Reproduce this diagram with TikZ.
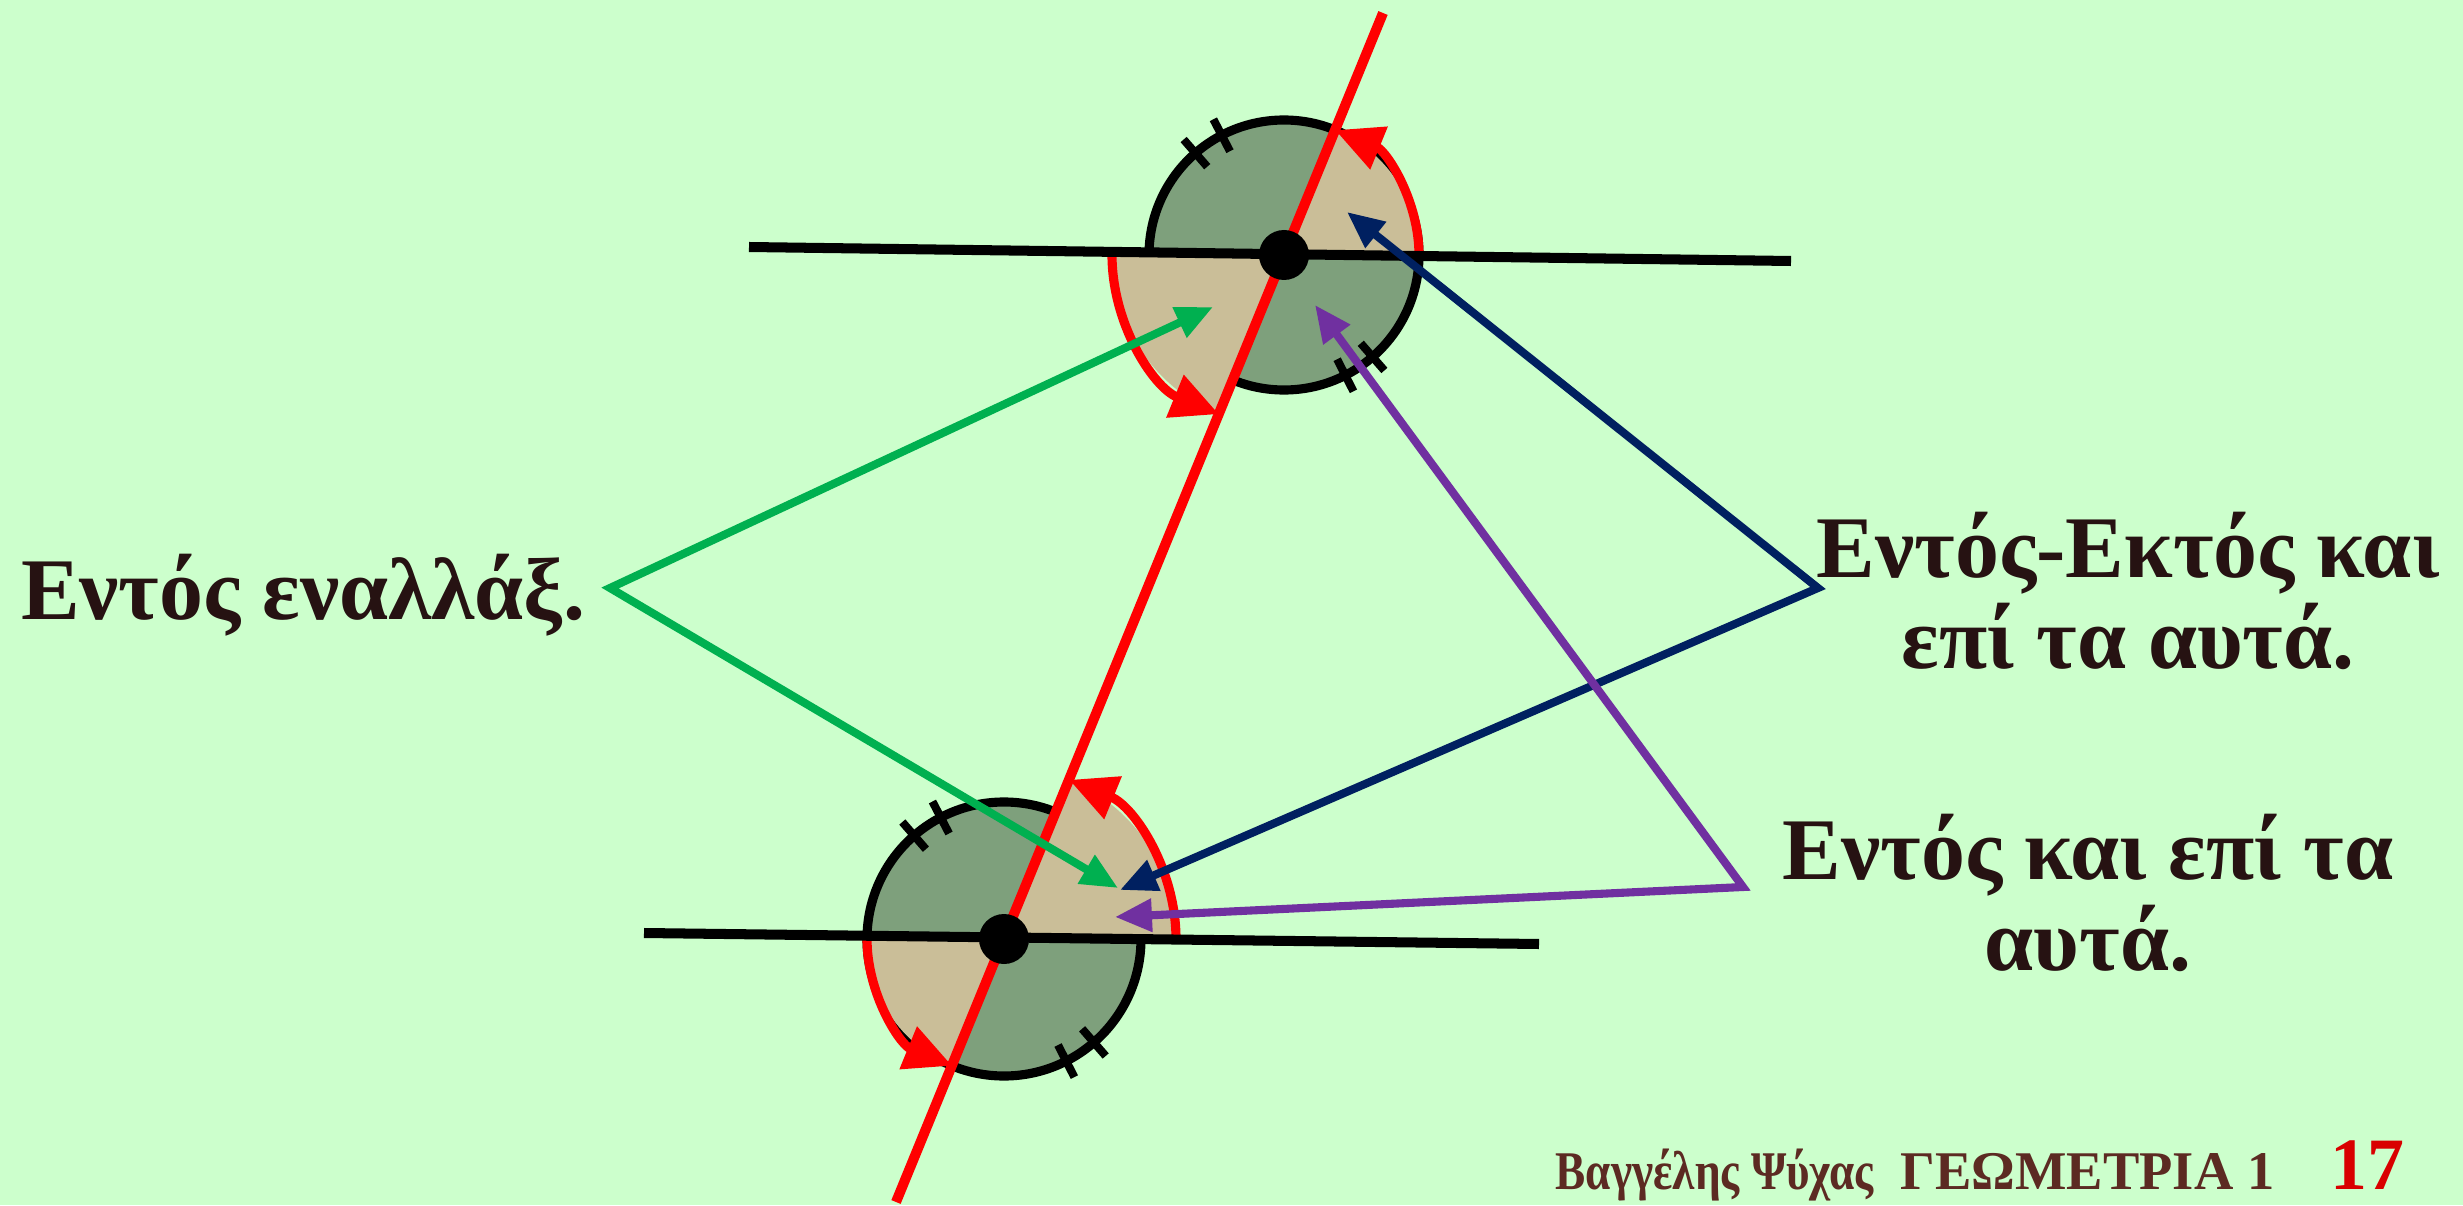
\documentclass[tikz,border=0pt]{standalone}
\usepackage{fontspec}
\setmainfont{Liberation Serif}
\newfontfamily\footfont{Liberation Serif}
\usetikzlibrary{arrows.meta}
\definecolor{bg}{RGB}{204,255,204}
\definecolor{circfill}{RGB}{126,160,124}
\definecolor{sectfill}{RGB}{202,190,152}
\definecolor{txtcol}{RGB}{38,18,18}
\definecolor{footcol}{RGB}{92,42,34}
\definecolor{ptrgreen}{RGB}{0,176,80}
\definecolor{ptrnavy}{RGB}{0,32,96}
\definecolor{ptrpurple}{RGB}{112,48,160}
\definecolor{redline}{RGB}{255,0,0}
\tikzset{
  circ/.style={draw=black, fill=circfill, line width=2.6pt},
  sect/.style={fill=sectfill},
  redarc/.style={draw=redline, line width=2.6pt, -{Triangle[length=13.5pt,width=12.5pt]}},
  blk/.style={draw=black, line width=2.85pt},
  redl/.style={draw=redline, line width=2.85pt},
  tickmark/.style={draw=black, line width=2.3pt},
  ptr/.style={line width=2.3pt, line join=miter,
    {Triangle[length=10.5pt,width=9pt]}-{Triangle[length=10.5pt,width=9pt]}},
  lbl/.style={text=txtcol, font=\bfseries\fontsize{25}{26}\selectfont, inner sep=0pt},
  foot/.style={text=footcol, font=\footfont\bfseries\fontsize{15.5}{16}\selectfont, inner sep=0pt}
}
\begin{document}
\begin{tikzpicture}[x=0.01cm,y=0.01cm]
\useasboundingbox (0,0) rectangle (2463,1205);
\fill[bg] (0,0) rectangle (2463,1205);
\def\up{67.74}
\def\dn{247.74}
\def\lf{179.25}
\def\rt{-0.75}
\coordinate (T) at (1284,950);
\coordinate (B) at (1004,266);
% circles
\draw[circ] (T) circle[radius=135];
\draw[circ] (B) circle[radius=137];
% sectors top
\fill[sect] (T) -- ++(\lf:172) arc[start angle=\lf, end angle=\dn, radius=172] -- cycle;
\fill[sect] (T) -- ++(\rt:135) arc[start angle=\rt, end angle=\up, radius=135] -- cycle;
% sectors bottom
\fill[sect] (B) -- ++(\rt:172) arc[start angle=\rt, end angle=\up, radius=172] -- cycle;
\fill[sect] (B) -- ++(\lf:137) arc[start angle=\lf, end angle=\dn, radius=137] -- cycle;
% red arcs
\draw[redarc] (T) ++(\lf:172) arc[start angle=\lf, end angle=\dn, radius=172];
\draw[redarc] (T) ++(\rt:135) arc[start angle=\rt, end angle=\up, radius=135];
\draw[redarc] (B) ++(\rt:172) arc[start angle=\rt, end angle=\up, radius=172];
\draw[redarc] (B) ++(\lf:137) arc[start angle=\lf, end angle=\dn, radius=137];
% ticks
\foreach \a in {117.5,131,-63,-49}{
  \draw[tickmark] (T) ++(\a:117) -- ++(\a:36);
  \draw[tickmark] (B) ++(\a:119) -- ++(\a:36);
}
% parallel lines
\coordinate (tl1) at (749,958);
\coordinate (tl2) at (1791,944);
\coordinate (bl1) at (644,272);
\coordinate (bl2) at (1539,261);
\draw[blk] (tl1) -- (tl2);
\draw[blk] (bl1) -- (bl2);
% transversal
\coordinate (r1) at (1383,1192);
\coordinate (r2) at (896,3);
\draw[redl] (r1) -- (r2);
% points
\fill[black] (T) circle[radius=25];
\fill[black] (B) circle[radius=25];
% pointers
\coordinate (gV) at (610,617);
\coordinate (gT) at (1213,898);
\coordinate (gB) at (1118,317);
\coordinate (nV) at (1818,617);
\coordinate (nT) at (1347,993);
\coordinate (nB) at (1120,315);
\coordinate (pV) at (1743,318);
\coordinate (pT) at (1315,900);
\coordinate (pB) at (1115,288);
\draw[ptr, ptrgreen] (gT) -- (gV) -- (gB);
\draw[ptr, ptrnavy] (nT) -- (nV) -- (nB);
\draw[ptr, ptrpurple] (pT) -- (pV) -- (pB);
% labels
\node[lbl] (alt) at (303,610) {Εντός εναλλάξ.};
\node[lbl, align=center] (ext) at (2128,614) {Εντός-Εκτός και\\επί τα αυτά.};
\node[lbl, align=center] (int) at (2088,312) {Εντός και επί τα\\αυτά.};
% footer
\node[foot, anchor=base west] (auth) at (1555,16) {\scalebox{0.83}[1]{Βαγγέλης Ψύχας}};
\node[foot, anchor=base west] (geo) at (1900,16) {ΓΕΩΜΕΤΡΙΑ 1};
\node[text=red!85!black, font=\footfont\bfseries\fontsize{21}{22}\selectfont, inner sep=0pt, anchor=base west] (pg) at (2330,16) {17};
\end{tikzpicture}
\end{document}
